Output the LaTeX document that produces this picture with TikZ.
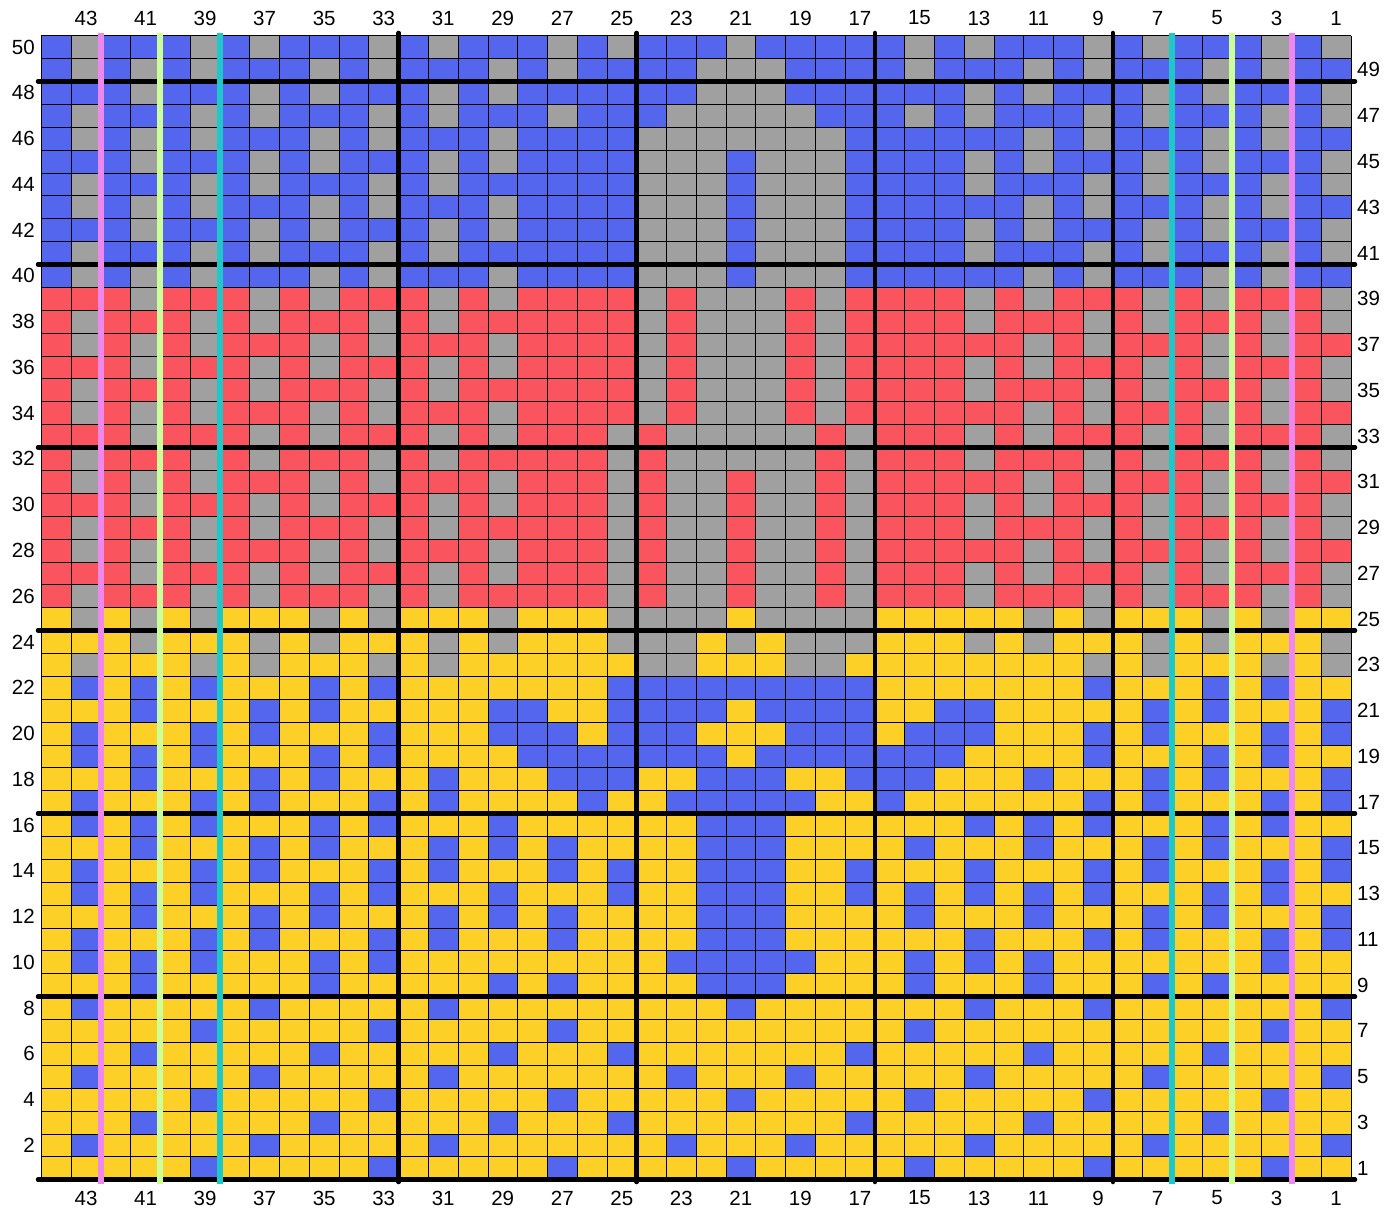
\documentclass[tikz,border=0pt]{standalone}
\usepackage{fontspec}
\setmainfont{Liberation Sans}
\definecolor{cB}{RGB}{85,102,238}
\definecolor{cG}{RGB}{160,160,160}
\definecolor{cR}{RGB}{250,85,95}
\definecolor{cY}{RGB}{253,208,40}
\definecolor{cPink}{RGB}{238,136,238}
\definecolor{cLime}{RGB}{204,255,153}
\definecolor{cTeal}{RGB}{30,200,200}
\def\chL{41.4}
\def\chW{29.764}
\def\chT{35.6}
\def\chH{22.88}
\def\chRt{1351.0}
\def\chBt{1179.6}
\makeatletter
\newcount\cellidx
\def\chartrow#1#2{\cellidx=0 \def\chartr{#1}\chart@scan#2\relax}
\def\chart@scan#1{\ifx#1\relax\else\chart@cell{#1}\expandafter\chart@scan\fi}
\def\chart@cell#1{%
  \fill[c#1] ({\chL+\the\cellidx*\chW},{\chT+(50-\chartr)*\chH}) rectangle ++(\chW,\chH);%
  \advance\cellidx by 1\relax}
\makeatother
\begin{document}
\begin{tikzpicture}[x=1pt,y=-1pt,
  gridline/.style={black,line width=0.65pt},
  heavy/.style={black,line width=4.5pt,line cap=round},
  marker/.style={line width=6pt},
  lbl/.style={inner sep=0pt,font=\fontsize{20.5}{24}\selectfont}]
\useasboundingbox[fill=white] (0,0) rectangle (1397,1214);
% cells: each row from column 44 (left) to column 1 (right)
\chartrow{50}{BGBBBGBGBBBG BGBBBGBGBBBGBBBB BGBGBBBGBGBBBGBG}
\chartrow{49}{BGBGBGBBBGBG BBBGBGBBBBGGGBBB BGBBBGBGBBBGBGBB}
\chartrow{48}{BBBGBBBGBGBB BGBGBBBBBBGGGBBB BBBGBGBBBGBGBBBG}
\chartrow{47}{BGBBBGBGBBBG BGBBBGBBBGGGGGBB BGBGBBBGBGBBBGBG}
\chartrow{46}{BGBGBGBBBGBG BBBGBBBBGGGGGGGB BBBBBGBGBBBGBGBB}
\chartrow{45}{BBBGBBBGBGBB BGBGBBBBGGGBGGGB BBBGBGBBBGBGBBBG}
\chartrow{44}{BGBBBGBGBBBG BGBBBBBBGGGBGGGB BBBGBBBGBGBBBGBG}
\chartrow{43}{BGBGBGBBBGBG BBBGBBBBGGGBGGGB BBBBBGBGBBBGBGBB}
\chartrow{42}{BBBGBBBGBGBB BGBGBBBBGGGBGGGB BBBGBGBBBGBGBBBG}
\chartrow{41}{BGBBBGBGBBBG BGBBBBBBGGGBGGGB BBBGBBBGBGBBBGBG}
\chartrow{40}{BGBGBGBBBGBG BBBGBBBBGGGBGGGB BBBBBGBGBBBGBGBB}
\chartrow{39}{RRRGRRRGRGRR RGRGRRRRGRGGGRGR RRRGRGRRRGRGRRRG}
\chartrow{38}{RGRRRGRGRRRG RGRRRRRRGRGGGRGR RRRGRRRGRGRRRGRG}
\chartrow{37}{RGRGRGRRRGRG RRRGRRRRGRGGGRGR RRRRRGRGRRRGRGRR}
\chartrow{36}{RRRGRRRGRGRR RGRGRRRRGRGGGRGR RRRGRGRRRGRGRRRG}
\chartrow{35}{RGRRRGRGRRRG RGRRRRRRGRGGGRGR RRRGRRRGRGRRRGRG}
\chartrow{34}{RGRGRGRRRGRG RRRGRRRRGRGGGRGR RRRRRGRGRRRGRGRR}
\chartrow{33}{RRRGRRRGRGRR RGRGRRRGRGGGGGRG RRRGRGRRRGRGRRRG}
\chartrow{32}{RGRRRGRGRRRG RGRRRRRGRGGGGGRG RRRGRRRGRGRRRGRG}
\chartrow{31}{RGRGRGRRRGRG RRRGRRRGRGGRGGRG RRRRRGRGRRRGRGRR}
\chartrow{30}{RRRGRRRGRGRR RGRGRRRGRGGRGGRG RRRGRGRRRGRGRRRG}
\chartrow{29}{RGRRRGRGRRRG RGRRRRRGRGGRGGRG RRRGRRRGRGRRRGRG}
\chartrow{28}{RGRGRGRRRGRG RRRGRRRGRGGRGGRG RRRRRGRGRRRGRGRR}
\chartrow{27}{RRRGRRRGRGRR RGRGRRRGRGGRGGRG RRRGRGRRRGRGRRRG}
\chartrow{26}{RGRRRGRGRRRG RGRRRRRGRGGRGGRG RRRGRRRGRGRRRGRG}
\chartrow{25}{YGYGYGYYYGYG YYYGYYYGGGGYGGGG YYYYYGYGYYYGYGYY}
\chartrow{24}{YYYGYYYGYGYY YGYGYYYGGGYGYGGG YYYGYGYYYGYGYYYG}
\chartrow{23}{YGYYYGYGYYYG YGYYYYYYGGYYYGGY YYYYYYYGYGYYYGYG}
\chartrow{22}{YBYBYBYYYBYB YYYYYYYBBBBBBBBB YYYYYYYBYYYBYBYY}
\chartrow{21}{YYYBYYYBYBYY YYYBBYYBBBBYBBBB YYBBYYYYYBYBYYYB}
\chartrow{20}{YBYYYBYBYYYB YYYBBBYBBBYYYBBB YBBBYYYBYBYYYBYB}
\chartrow{19}{YBYBYBYYYBYB YYYYBBBBBBBYBBBB BBBYYYYBYYYBYBYY}
\chartrow{18}{YYYBYYYBYBYY YBYYYBBBYYBBBYYB BBYYYBYYYBYBYYYB}
\chartrow{17}{YBYYYBYBYYYB YBYYYYBYYBBBBBYY BYYYYYYBYBYYYBYB}
\chartrow{16}{YBYBYBYYYBYB YYYBYYYYYYBBBYYY YYYBYBYBYYYBYBYY}
\chartrow{15}{YYYBYYYBYBYY YBYBYBYYYYBBBYYY YBYYYBYYYBYBYYYB}
\chartrow{14}{YBYYYBYBYYYB YBYYYBYBYYBBBYYB YYYBYYYBYBYYYBYB}
\chartrow{13}{YBYBYBYYYBYB YYYBYYYBYYBBBYYB YBYBYBYBYYYBYBYY}
\chartrow{12}{YYYBYYYBYBYY YBYBYBYYYYBBBYYY YBYYYBYYYBYBYYYB}
\chartrow{11}{YBYYYBYBYYYB YBYYYBYYYYBBBYYY YYYBYYYBYBYYYBYB}
\chartrow{10}{YBYBYBYYYBYB YYYYYYYYYBBBBBYY YBYBYBYYYYYYYBYY}
\chartrow{9}{YYYBYYYYYBYY YYYBYBYYYYBBBYYY YBYYYBYYYBYBYYYY}
\chartrow{8}{YBYYYYYBYYYY YBYYYYYYYYYBYYYY YYYBYYYBYYYYYYYB}
\chartrow{7}{YYYYYBYYYYYB YYYYYBYYYYYYYYYY YBYYYYYYYYYYYBYY}
\chartrow{6}{YYYBYYYYYBYY YYYBYYYBYYYYYYYB YYYYYBYYYYYBYYYY}
\chartrow{5}{YBYYYYYBYYYY YBYYYYYYYBYYYBYY YYYBYYYYYBYYYYYB}
\chartrow{4}{YYYYYBYYYYYB YYYYYBYYYYYBYYYY YBYYYYYBYYYYYBYY}
\chartrow{3}{YYYBYYYYYBYY YYYBYYYBYYYYYYYB YYYYYBYYYYYBYYYY}
\chartrow{2}{YBYYYYYBYYYY YBYYYYYYYBYYYBYY YYYBYYYYYBYYYYYB}
\chartrow{1}{YYYYYBYYYYYB YYYYYBYYYYYBYYYY YBYYYYYBYYYYYBYY}
% thin grid
\foreach \i in {0,...,44} \draw[gridline] ({\chL+\i*\chW},\chT) -- ({\chL+\i*\chW},\chBt);
\foreach \j in {0,...,50} \draw[gridline] (\chL,{\chT+\j*\chH}) -- (\chRt,{\chT+\j*\chH});
% heavy lines every 8 stitches / rows
\foreach \j in {2,10,18,26,34,42,50} \draw[heavy] (38,{\chT+\j*\chH}) -- (1355,{\chT+\j*\chH});
\foreach \i in {12,20,28,36} \draw[heavy] ({\chL+\i*\chW},33) -- ({\chL+\i*\chW},1182);
% size marker lines
\foreach \i/\c in {2/cPink,4/cLime,6/cTeal,38/cTeal,40/cLime,42/cPink}
  \draw[marker,draw=\c] ({\chL+\i*\chW},33) -- ({\chL+\i*\chW},1184);
% labels
\foreach \c in {1,3,...,43} {
  \node[lbl] (top\c) at ({\chL+(44.5-\c)*\chW},18) {\c};
  \node[lbl] (bot\c) at ({\chL+(44.5-\c)*\chW},1198) {\c};
}
\foreach \r in {2,4,...,50}
  \node[lbl,anchor=east] (lft\r) at (35,{\chT+(50.5-\r)*\chH}) {\r};
\foreach \r in {1,3,...,49}
  \node[lbl,anchor=west] (rgt\r) at (1357,{\chT+(50.5-\r)*\chH}) {\r};
\end{tikzpicture}
\end{document}
